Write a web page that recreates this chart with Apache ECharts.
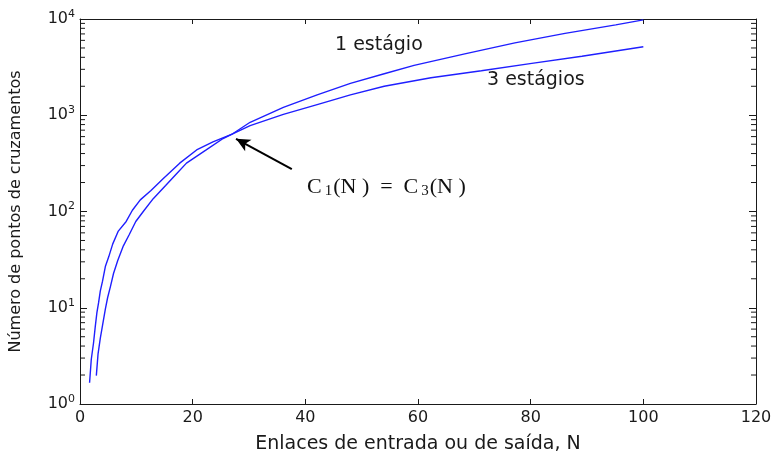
<!DOCTYPE html>
<html>
<head>
<meta charset="utf-8">
<script src="https://cdn.jsdelivr.net/npm/echarts@6/dist/echarts.min.js"></script>
<style>
html,body{margin:0;padding:0;background:#fff;}
#c{width:776px;height:459px;}
</style>
</head>
<body>
<div id="c"></div>
<script>
// Data
const xTicks = [0, 20, 40, 60, 80, 100, 120];
const yTicks = [1, 10, 100, 1000, 10000];
const yMinorTicks = [2,3,4,5,6,7,8,9,20,30,40,50,60,70,80,90,200,300,400,500,600,700,800,900,2000,3000,4000,5000,6000,7000,8000,9000];
const stage1 = [[2.9,1.97],[3.2,3.3],[3.6,4.8],[4.0,6.55],[4.5,9.7],[4.9,12.7],[5.4,16.6],[5.95,22.7],[6.7,31],[7.7,44],[8.75,57.7],[9.9,78.8],[11.4,103],[13.0,136],[15.2,186],[17.1,245],[18.9,318],[22.4,436],[25.4,573],[27.1,642],[30.2,845],[36.1,1205],[42.1,1630],[48,2140],[54,2700],[59.3,3300],[68.3,4340],[77.2,5650],[86.1,7100],[95.1,8700],[100,9800]];
const stage3 = [[1.7,1.66],[2.0,2.9],[2.4,4.3],[2.7,6.3],[3.0,8.9],[3.3,11.3],[3.6,14.9],[4.0,18.9],[4.5,26.8],[5.1,33.8],[5.8,45.8],[6.8,62.6],[8.2,78.8],[9.3,103],[10.7,132],[12.6,165],[14.7,217],[17.7,318],[20.7,436],[23.6,528],[27.1,642],[30.2,780],[36.1,1020],[42.1,1290],[48,1630],[54,2000],[62.3,2450],[71.25,2900],[80.2,3460],[89.1,4100],[100,5150]];
const arrowFrom = [37.6, 275];
const arrowTo = [27.7, 569];
const xName = 'Enlaces de entrada ou de saída, N';
const yName = 'Número de pontos de cruzamentos';
const label1 = '1 estágio';
const label3 = '3 estágios';

const chart = echarts.init(document.getElementById('c'), null, {renderer:'canvas'});
const axisColor = '#1a1a1a';
const font = '"DejaVu Sans", Verdana, sans-serif';
const serif = '"Liberation Serif", "Times New Roman", serif';
const blue = '#1f1fff';

function yLab(v){
  const e = Math.round(Math.log10(v));
  return '{b|10}{s|' + e + '}';
}
const yRich = {
  b:{fontSize:16, fontFamily:font, color:axisColor},
  s:{fontSize:11, fontFamily:font, color:axisColor, verticalAlign:'top', padding:[0,0,10,0]}
};

const grid = {left:80, right:20, top:19, bottom:45};
const xBase = {
  type:'value', min:0, max:120, interval:20,
  axisLine:{show:true, onZero:false, lineStyle:{color:axisColor, width:1}},
  axisTick:{show:true, inside:true, length:5, lineStyle:{color:axisColor}},
  splitLine:{show:false}
};
const yBase = {
  type:'log', logBase:10, min:1, max:10000,
  axisLine:{show:true, onZero:false, lineStyle:{color:axisColor, width:1}},
  axisTick:{show:true, inside:true, length:7, lineStyle:{color:axisColor}},
  splitLine:{show:false}
};

chart.setOption({
  animation:false,
  backgroundColor:'#fff',
  grid:grid,
  xAxis:[
    Object.assign({}, xBase, {position:'bottom',
      name:xName, nameLocation:'middle', nameGap:31,
      nameTextStyle:{fontSize:19, fontFamily:font, color:axisColor},
      axisLabel:{fontSize:16, fontFamily:font, color:axisColor, margin:6}}),
    Object.assign({}, xBase, {position:'top', axisLabel:{show:false}})
  ],
  yAxis:[
    Object.assign({}, yBase, {position:'left',
      name:yName, nameLocation:'middle', nameGap:56,
      nameTextStyle:{fontSize:16, fontFamily:font, color:axisColor},
      axisLabel:{formatter:yLab, rich:yRich, margin:5}}),
    Object.assign({}, yBase, {position:'right', axisLabel:{show:false}})
  ],
  series:[
    {type:'custom', silent:true, clip:false, z:5,
     encode:{x:0, y:1},
     data:yMinorTicks.map(v => [1, v]),
     renderItem:function(params, api){
       const cs = params.coordSys;
       const p = api.coord([api.value(0), api.value(1)]);
       const st = {stroke:axisColor, lineWidth:1, fill:null};
       return {type:'group', children:[
         {type:'line', shape:{x1:cs.x, y1:p[1], x2:cs.x+5, y2:p[1]}, style:st},
         {type:'line', shape:{x1:cs.x+cs.width-5, y1:p[1], x2:cs.x+cs.width, y2:p[1]}, style:st}
       ]};
     }},
    {type:'line', name:label1, data:stage1, showSymbol:false, xAxisIndex:0, yAxisIndex:0,
     lineStyle:{color:blue, width:1.4}},
    {type:'line', name:label3, data:stage3, showSymbol:false, xAxisIndex:0, yAxisIndex:0,
     lineStyle:{color:blue, width:1.4},
     markLine:{silent:true, symbol:['none','arrow'], symbolSize:[10,14], animation:false,
       label:{show:false}, lineStyle:{color:'#000', width:2, type:'solid'},
       data:[[{coord:arrowFrom},{coord:arrowTo}]]}}
  ],
  graphic:[
    {type:'text', left:335, top:36, style:{text:label1, fontSize:19, fontFamily:font, fill:axisColor}},
    {type:'text', left:487, top:71, style:{text:label3, fontSize:19, fontFamily:font, fill:axisColor}},
    {type:'text', left:307, top:176, style:{
      text:'{c|C}{sub|1}{c|(N )  =  C}{sub|3}{c|(N )}',
      rich:{
        c:{fontSize:22, fontFamily:serif, fill:'#111'},
        sub:{fontSize:15, fontFamily:serif, fill:'#111', verticalAlign:'bottom', padding:[9,1,0,3]}
      }}}
  ]
});
</script>
</body>
</html>
